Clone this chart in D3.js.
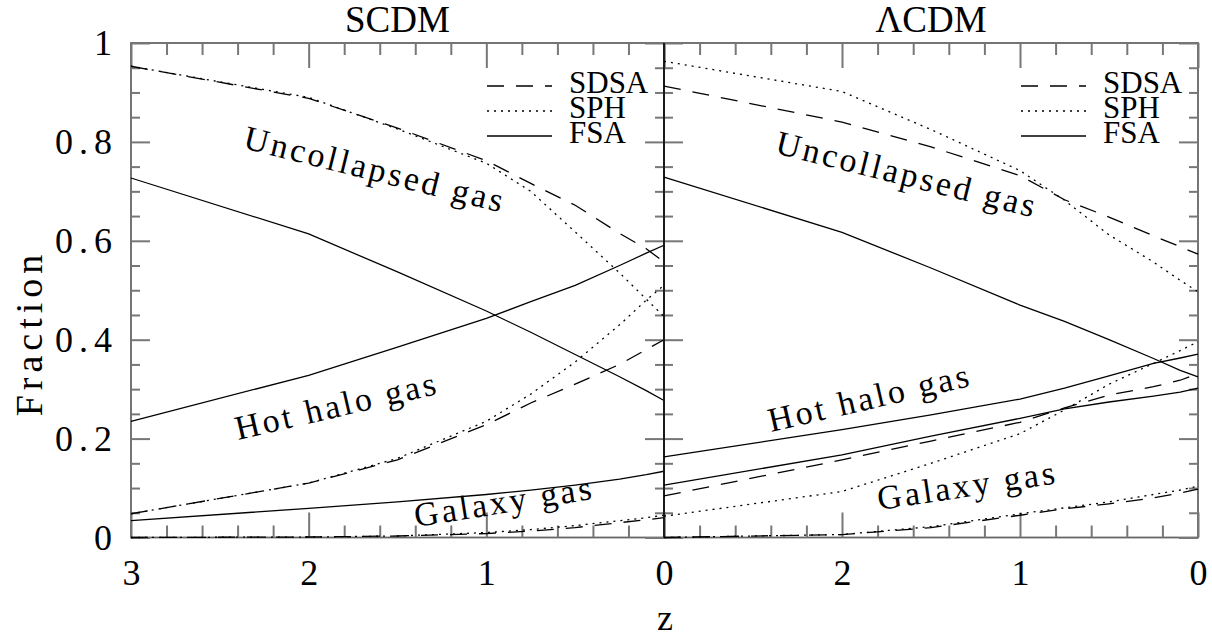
<!DOCTYPE html>
<html>
<head>
<meta charset="utf-8">
<script src="https://cdn.jsdelivr.net/npm/d3@7"></script>
<style>
  body { margin: 0; background: #fff; }
  text { font-family: "Liberation Serif", "Times New Roman", serif; fill: #000; }
</style>
</head>
<body>
<div id="chart"></div>
<script>
// redshift grid shared by every curve
const zGrid = [3, 2, 1.5, 1, 0.75, 0.5, 0.25, 0.1, 0];

// SCDM panel
const scdmUncolSDSA = [0.953, 0.888, 0.828, 0.762, 0.716, 0.672, 0.615, 0.584, 0.557];
const scdmUncolSPH  = [0.953, 0.890, 0.826, 0.757, 0.700, 0.618, 0.535, 0.482, 0.447];
const scdmUncolFSA  = [0.727, 0.614, 0.537, 0.458, 0.415, 0.370, 0.325, 0.297, 0.277];
const scdmHotSDSA   = [0.048, 0.110, 0.157, 0.228, 0.272, 0.310, 0.350, 0.380, 0.400];
const scdmHotSPH    = [0.048, 0.110, 0.160, 0.235, 0.290, 0.355, 0.430, 0.480, 0.510];
const scdmHotFSA    = [0.235, 0.328, 0.385, 0.443, 0.477, 0.510, 0.550, 0.575, 0.591];
const scdmGalSDSA   = [0.000, 0.001, 0.003, 0.008, 0.013, 0.020, 0.030, 0.036, 0.040];
const scdmGalSPH    = [0.000, 0.001, 0.003, 0.010, 0.016, 0.024, 0.034, 0.040, 0.045];
const scdmGalFSA    = [0.034, 0.059, 0.072, 0.087, 0.096, 0.106, 0.118, 0.127, 0.134];

// LCDM panel
const lcdmUncolSDSA = [0.913, 0.840, 0.790, 0.732, 0.683, 0.648, 0.610, 0.588, 0.573];
const lcdmUncolSPH  = [0.963, 0.902, 0.825, 0.742, 0.682, 0.612, 0.557, 0.520, 0.497];
const lcdmUncolFSA  = [0.729, 0.617, 0.545, 0.470, 0.437, 0.400, 0.362, 0.338, 0.325];
const lcdmHotSDSA   = [0.084, 0.157, 0.195, 0.233, 0.262, 0.288, 0.305, 0.318, 0.331];
const lcdmHotSPH    = [0.043, 0.093, 0.150, 0.210, 0.258, 0.310, 0.352, 0.378, 0.396];
const lcdmHotFSA    = [0.163, 0.218, 0.248, 0.280, 0.302, 0.327, 0.352, 0.363, 0.371];
const lcdmGalSDSA   = [0.000, 0.006, 0.020, 0.045, 0.058, 0.068, 0.080, 0.090, 0.098];
const lcdmGalSPH    = [0.000, 0.006, 0.022, 0.048, 0.060, 0.072, 0.087, 0.096, 0.104];
const lcdmGalFSA    = [0.106, 0.167, 0.205, 0.241, 0.260, 0.274, 0.286, 0.294, 0.302];

const panelTitles = ["SCDM", "\u039BCDM"];
const methods = ["SDSA", "SPH", "FSA"];
const regionLabels = ["Uncollapsed gas", "Hot halo gas", "Galaxy gas"];
const yTickValues = [0, 0.2, 0.4, 0.6, 0.8, 1];
const yTickLabels = ["0", "0.2", "0.4", "0.6", "0.8", "1"];
const xLabelValues = [[3, 2, 1, 0], [2, 1, 0]];

const w = 1212, h = 640;
const yTop = 43, yBottom = 537.5;

const dashFor = { SDSA: "17,12", SPH: "2,5", FSA: null };

const panels = [
  {
    x0: 131, x1: 664,
    series: [
      [scdmUncolSDSA, "SDSA"], [scdmUncolSPH, "SPH"], [scdmUncolFSA, "FSA"],
      [scdmHotSDSA, "SDSA"], [scdmHotSPH, "SPH"], [scdmHotFSA, "FSA"],
      [scdmGalSDSA, "SDSA"], [scdmGalSPH, "SPH"], [scdmGalFSA, "FSA"]
    ],
    labelPos: [[242, 148, 14], [238, 440, -13], [416, 527, -9]]
  },
  {
    x0: 664, x1: 1198,
    series: [
      [lcdmUncolSDSA, "SDSA"], [lcdmUncolSPH, "SPH"], [lcdmUncolFSA, "FSA"],
      [lcdmHotSDSA, "SDSA"], [lcdmHotSPH, "SPH"], [lcdmHotFSA, "FSA"],
      [lcdmGalSDSA, "SDSA"], [lcdmGalSPH, "SPH"], [lcdmGalFSA, "FSA"]
    ],
    labelPos: [[774, 153, 14], [771, 432, -13], [879, 510, -8.5]]
  }
];

const svg = d3.select("#chart")
  .append("svg")
  .attr("width", w)
  .attr("height", h);

const y = d3.scaleLinear().domain([0, 1]).range([yBottom, yTop]);

const yMinor = d3.range(0, 21).map(i => i * 0.05).filter(v => Math.round(v * 100) % 20 !== 0);
const xMinor = d3.range(0, 16).map(i => i * 0.2).filter(v => Math.round(v * 10) % 10 !== 0);
const xMajor = [3, 2, 1, 0];

function styleTicks(g) {
  g.select(".domain").remove();
  g.selectAll(".tick line").attr("stroke", "#777").attr("stroke-width", 2);
}

panels.forEach((p, i) => {
  const x = d3.scaleLinear().domain([3, 0]).range([p.x0, p.x1]);
  const g = svg.append("g");

  // frame
  g.append("rect")
    .attr("x", p.x0).attr("y", yTop)
    .attr("width", p.x1 - p.x0).attr("height", yBottom - yTop)
    .attr("fill", "none").attr("stroke", "#666").attr("stroke-width", 1.8);

  // ticks on all four sides, pointing inward
  [[xMinor, 12], [xMajor, 25]].forEach(([vals, len]) => {
    g.append("g").attr("transform", `translate(0,${yBottom})`)
      .call(d3.axisTop(x).tickValues(vals).tickSize(len).tickFormat(""))
      .call(styleTicks);
    g.append("g").attr("transform", `translate(0,${yTop})`)
      .call(d3.axisBottom(x).tickValues(vals).tickSize(len).tickFormat(""))
      .call(styleTicks);
  });
  [[yMinor, 9], [yTickValues, 19]].forEach(([vals, len]) => {
    g.append("g").attr("transform", `translate(${p.x0},0)`)
      .call(d3.axisRight(y).tickValues(vals).tickSize(len).tickFormat(""))
      .call(styleTicks);
    g.append("g").attr("transform", `translate(${p.x1},0)`)
      .call(d3.axisLeft(y).tickValues(vals).tickSize(len).tickFormat(""))
      .call(styleTicks);
  });

  // x tick labels
  g.append("g").attr("transform", `translate(0,${yBottom})`)
    .call(d3.axisBottom(x).tickValues(xLabelValues[i]).tickSize(0).tickPadding(22).tickFormat(d3.format("d")))
    .call(a => a.select(".domain").remove())
    .attr("font-family", null)
    .attr("font-size", 36);

  // y tick labels, only on the left panel
  if (i === 0) {
    g.append("g").attr("transform", `translate(${p.x0},0)`)
      .call(d3.axisLeft(y).tickValues(yTickValues).tickSize(0).tickPadding(13)
        .tickFormat((d, k) => yTickLabels[k]))
      .call(a => a.select(".domain").remove())
      .attr("font-family", null)
      .attr("font-size", 36)
      .attr("letter-spacing", 6);
  }

  // title
  g.append("text")
    .attr("x", (p.x0 + p.x1) / 2)
    .attr("y", 32)
    .attr("text-anchor", "middle")
    .attr("font-size", 37)
    .text(panelTitles[i]);

  // curves
  const line = d3.line()
    .x((d, k) => x(zGrid[k]))
    .y(d => y(d));

  g.selectAll("path.curve")
    .data(p.series)
    .enter()
    .append("path")
    .attr("class", "curve")
    .attr("d", d => line(d[0]))
    .attr("fill", "none")
    .attr("stroke", "#000")
    .attr("stroke-width", 1.3)
    .attr("stroke-dasharray", d => dashFor[d[1]]);

  // legend
  const legend = g.append("g").attr("transform", `translate(${p.x1 - 177},86)`);
  methods.forEach((m, k) => {
    legend.append("line")
      .attr("x1", 0).attr("x2", 65)
      .attr("y1", k * 25).attr("y2", k * 25)
      .attr("stroke", "#000").attr("stroke-width", 1.3)
      .attr("stroke-dasharray", dashFor[m]);
    legend.append("text")
      .attr("x", 82).attr("y", k * 25 + 7)
      .attr("font-size", 31)
      .text(m);
  });

  // region labels
  regionLabels.forEach((lab, k) => {
    const [lx, ly, ang] = p.labelPos[k];
    g.append("text")
      .attr("transform", `translate(${lx},${ly}) rotate(${ang})`)
      .attr("font-size", 34)
      .attr("letter-spacing", 3)
      .text(lab);
  });
});

// shared divider between the panels
svg.append("line")
  .attr("x1", 664).attr("x2", 664)
  .attr("y1", yTop).attr("y2", yBottom)
  .attr("stroke", "#000").attr("stroke-width", 1.5);

// axis titles
svg.append("text")
  .attr("x", 665).attr("y", 630)
  .attr("text-anchor", "middle")
  .attr("font-size", 36)
  .text("z");

svg.append("text")
  .attr("transform", "translate(42,333) rotate(-90)")
  .attr("text-anchor", "middle")
  .attr("font-size", 38)
  .attr("letter-spacing", 5)
  .text("Fraction");
</script>
</body>
</html>
